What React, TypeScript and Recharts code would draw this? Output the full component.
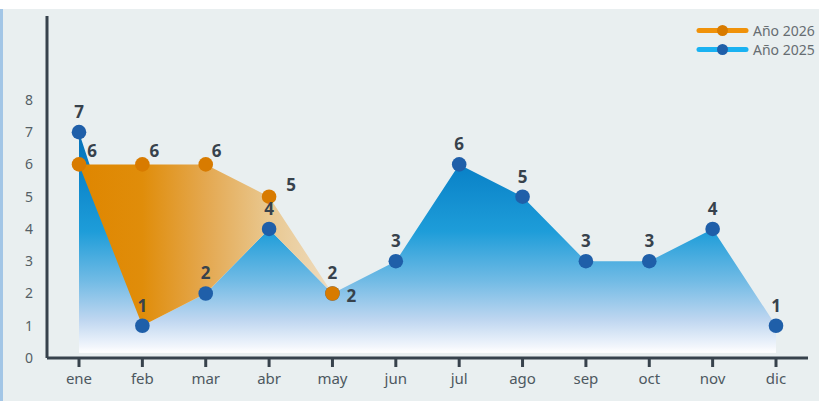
import React from 'react';
import { ComposedChart, Area, Line, XAxis, YAxis, Legend, LabelList } from 'recharts';

const months = ['ene', 'feb', 'mar', 'abr', 'may', 'jun', 'jul', 'ago', 'sep', 'oct', 'nov', 'dic'];
const values2025 = [7, 1, 2, 4, 2, 3, 6, 5, 3, 3, 4, 1];
const values2026: (number | null)[] = [6, 6, 6, 5, 2, null, null, null, null, null, null, null];
const yTicks = [0, 1, 2, 3, 4, 5, 6, 7, 8];
const legendNames = ['Año 2026', 'Año 2025'];

const FONT = '"Noto Sans", "Open Sans", sans-serif';
const BG = '#e9eff0';
const AXIS = '#37424c';
const LABEL = '#37424c';
const BLUE_DOT = '#1f5fa9';
const ORANGE_DOT = '#d87b00';

const orangeLabelDx = [13, 12, 11, 22, 19];
const orangeLabelDy = [-7, -7, -7, -6, 9];

const data = months.map((m, i) => {
  const v26 = values2026[i];
  return {
    month: m,
    y2025: values2025[i],
    y2026: v26,
    range2026: v26 == null ? null : [Math.min(values2025[i], v26), v26],
  };
});

const legendItems = [
  { name: legendNames[0], line: '#f0920a', dot: ORANGE_DOT },
  { name: legendNames[1], line: '#1ab2f2', dot: BLUE_DOT },
];

const renderLegend = () => (
  <div style={{ fontFamily: FONT, fontSize: 14, color: '#666d72', lineHeight: '19px' }}>
    {legendItems.map((it) => (
      <div key={it.name} style={{ display: 'flex', alignItems: 'center', height: 19 }}>
        <svg width={56} height={19} style={{ display: 'block' }}>
          <line x1={4} y1={9.5} x2={51} y2={9.5} stroke={it.line} strokeWidth={5} strokeLinecap="round" />
          <circle cx={27.5} cy={9.5} r={5.5} fill={it.dot} />
        </svg>
        <span style={{ marginLeft: 2 }}>{it.name}</span>
      </div>
    ))}
  </div>
);

const makeDot = (color: string) => (p: any) => {
  if (p.value == null || p.cy == null || isNaN(p.cy)) return <g key={`d-${color}-${p.index}`} />;
  return <circle key={`d-${color}-${p.index}`} cx={p.cx} cy={p.cy} r={7.3} fill={color} />;
};

const blueLabel = (p: any) => {
  const x = p.x ?? p.viewBox?.x;
  const y = p.y ?? p.viewBox?.y;
  if (p.value == null || y == null) return null;
  return (
    <text x={x} y={y - 14} textAnchor="middle" fontFamily={FONT} fontSize={17} fontWeight="bold" fill={LABEL}>
      {p.value}
    </text>
  );
};

const orangeLabel = (p: any) => {
  const x = p.x ?? p.viewBox?.x;
  const y = p.y ?? p.viewBox?.y;
  if (p.value == null || y == null) return null;
  const i = p.index ?? 0;
  return (
    <text x={x + (orangeLabelDx[i] ?? 12)} y={y + (orangeLabelDy[i] ?? -7)} textAnchor="middle" fontFamily={FONT} fontSize={17} fontWeight="bold" fill={LABEL}>
      {p.value}
    </text>
  );
};

export default function App() {
  return (
    <div style={{ position: 'absolute', left: 0, top: 0, width: 819, height: 401, background: '#ffffff', overflow: 'hidden' }}>
      <div style={{ position: 'absolute', left: 3, top: 9, width: 816, height: 392, background: BG }} />
      <div style={{ position: 'absolute', left: 0, top: 9, width: 3, height: 392, background: '#a3c6e6' }} />
      <div style={{ position: 'absolute', left: 0, top: 0 }}>
        <ComposedChart width={819} height={401} data={data} margin={{ top: 16, right: 11, bottom: 0, left: 7 }}>
          <defs>
            <linearGradient id="blueFill" x1="0" y1="0" x2="0" y2="1">
              <stop offset="0" stopColor="#0670b8" />
              <stop offset="0.18" stopColor="#0b84c9" />
              <stop offset="0.44" stopColor="#1e9dd9" />
              <stop offset="0.66" stopColor="#72bbe5" />
              <stop offset="0.83" stopColor="#bed6f0" />
              <stop offset="0.95" stopColor="#f2f6fc" />
              <stop offset="0.975" stopColor="#ffffff" />
              <stop offset="0.98" stopColor={BG} />
              <stop offset="1" stopColor={BG} />
            </linearGradient>
            <linearGradient id="orangeFill" x1="0" y1="0" x2="1" y2="0">
              <stop offset="0" stopColor="#df8600" />
              <stop offset="0.25" stopColor="#e08d0a" />
              <stop offset="0.5" stopColor="#e4a850" />
              <stop offset="0.75" stopColor="#e9c890" />
              <stop offset="1" stopColor="#eedcc0" />
            </linearGradient>
          </defs>
          <XAxis
            dataKey="month"
            padding={{ left: 32, right: 32 }}
            axisLine={{ stroke: AXIS, strokeWidth: 3 }}
            tickLine={{ stroke: AXIS, strokeWidth: 3 }}
            tickSize={9}
            tickMargin={6}
            height={43}
            tick={{ fill: '#4d5860', fontSize: 15, fontFamily: FONT }}
            interval={0}
          />
          <YAxis
            type="number"
            domain={[0, 10.6]}
            allowDataOverflow
            ticks={yTicks}
            width={40}
            axisLine={{ stroke: AXIS, strokeWidth: 3 }}
            tickLine={false}
            tickSize={6}
            tickMargin={8}
            tick={{ fill: '#555f66', fontSize: 14, fontFamily: FONT }}
          />
          <Legend
            content={renderLegend}
            layout="horizontal"
            align="center"
            verticalAlign="middle"
            wrapperStyle={{ top: 21, left: 695, width: 124, height: 40 }}
          />
          <Area
            type="linear"
            dataKey="y2025"
            stroke="none"
            fill="url(#blueFill)"
            fillOpacity={1}
            dot={false}
            activeDot={false}
            isAnimationActive={false}
            legendType="none"
          />
          <Area
            type="linear"
            dataKey="range2026"
            stroke="none"
            fill="url(#orangeFill)"
            fillOpacity={1}
            dot={false}
            activeDot={false}
            isAnimationActive={false}
            legendType="none"
          />
          <Line
            type="linear"
            dataKey="y2025"
            stroke="none"
            dot={makeDot(BLUE_DOT)}
            activeDot={false}
            isAnimationActive={false}
            legendType="none"
          >
            <LabelList dataKey="y2025" content={blueLabel} />
          </Line>
          <Line
            type="linear"
            dataKey="y2026"
            stroke="none"
            dot={makeDot(ORANGE_DOT)}
            activeDot={false}
            isAnimationActive={false}
            legendType="none"
          >
            <LabelList dataKey="y2026" content={orangeLabel} />
          </Line>
        </ComposedChart>
      </div>
    </div>
  );
}
